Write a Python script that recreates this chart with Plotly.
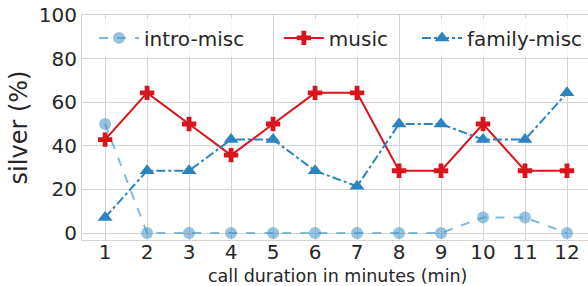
import plotly.graph_objects as go

minutes = [1, 2, 3, 4, 5, 6, 7, 8, 9, 10, 11, 12]
intro_misc = [50, 0, 0, 0, 0, 0, 0, 0, 0, 7.14, 7.14, 0]
music = [42.86, 64.29, 50, 35.71, 50, 64.29, 64.29, 28.57, 28.57, 50, 28.57, 28.57]
family_misc = [7.14, 28.57, 28.57, 42.86, 42.86, 28.57, 21.43, 50, 50, 42.86, 42.86, 64.29]
x_title = "call duration in minutes (min)"
y_title = "silver (%)"

fig = go.Figure()
fig.add_trace(go.Scatter(x=minutes, y=intro_misc, name="intro-misc", mode="lines+markers",
                         legend="legend",
                         line=dict(color="rgba(107,174,214,0.85)", width=2, dash="dash"),
                         marker=dict(symbol="circle", size=12, color="rgba(66,146,198,0.55)",
                                     line=dict(width=0))))
fig.add_trace(go.Scatter(x=minutes, y=music, name="music", mode="lines+markers",
                         legend="legend2",
                         line=dict(color="#d9141c", width=2),
                         marker=dict(symbol="cross", size=12, color="#d9141c")))
fig.add_trace(go.Scatter(x=minutes, y=family_misc, name="family-misc", mode="lines+markers",
                         legend="legend3",
                         line=dict(color="#2b83c0", width=2, dash="dashdot"),
                         marker=dict(symbol="triangle-up", size=13, color="#2b83c0")))

font = dict(family="DejaVu Sans", size=20, color="#262626")
leg = dict(orientation="h", y=0.985, yanchor="top",
           bgcolor="rgba(255,255,255,0.8)", font=font, itemwidth=40)
fig.update_layout(
    width=588, height=286,
    margin=dict(l=82, r=0, t=15, b=46),
    paper_bgcolor="white", plot_bgcolor="white",
    font=font,
    showlegend=True,
    legend=dict(leg, x=0.0237, xanchor="left"),
    legend2=dict(leg, x=0.389, xanchor="left"),
    legend3=dict(leg, x=1.0, xanchor="right"),
    xaxis=dict(range=[0.45, 12.5], tickmode="array", tickvals=minutes,
               showgrid=True, gridcolor="#d4d4d4", gridwidth=1, zeroline=False,
               showline=True, linecolor="#d4d4d4", mirror=True, ticks="",
               automargin=False, ticklabelstandoff=-6,
               tickfont=font),
    yaxis=dict(range=[-3.2, 100], tickmode="array", tickvals=[0, 20, 40, 60, 80, 100],
               showgrid=True, gridcolor="#d4d4d4", gridwidth=1, zeroline=False,
               showline=True, linecolor="#d4d4d4", mirror=True, ticks="",
               automargin=False,
               title=dict(text=y_title, standoff=4),
               tickfont=font),
    annotations=[dict(text=x_title, xref="paper", yref="paper", x=0.505, y=0,
                      xanchor="center", yanchor="middle", yshift=-36, showarrow=False,
                      font=dict(family="DejaVu Sans", size=17.5, color="#262626"))],
)
fig.write_html("out.html", config={"displayModeBar": False},
               post_script="document.body.style.margin='0';")
